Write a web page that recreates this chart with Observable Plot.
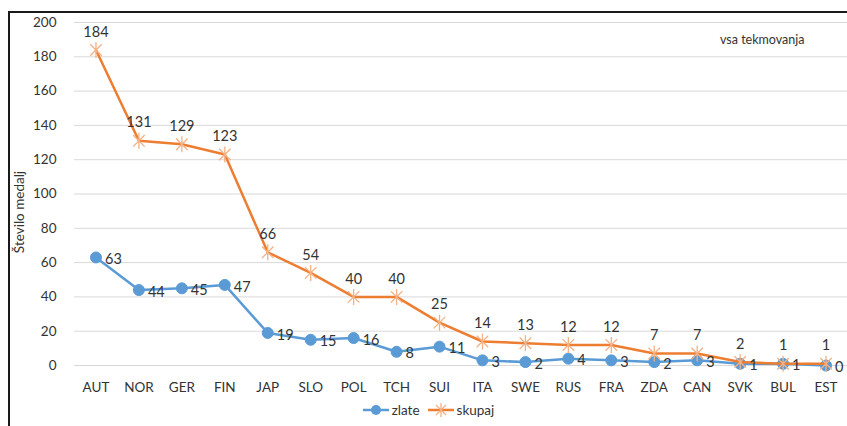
<!DOCTYPE html>
<html>
<head>
<meta charset="utf-8">
<script src="https://cdn.jsdelivr.net/npm/d3@7"></script>
<script src="https://cdn.jsdelivr.net/npm/@observablehq/plot@0.6"></script>
<style>
  body { margin: 0; background: #fff; font-family: Lato, "Open Sans", sans-serif; }
  #wrap { position: relative; width: 847px; height: 426px; overflow: hidden; }
  #frame { position: absolute; left: 8px; top: 11px; width: 900px; height: 500px;
           border-left: 2px solid #1a1a1a; border-top: 2px solid #1a1a1a; box-sizing: border-box; }
  #chart { position: absolute; left: 0; top: 0; }
  .ylab { position: absolute; left: 19px; top: 212px; transform: translate(-50%,-50%) rotate(-90deg);
          transform-origin: center; font-size: 13.5px; color: #333; white-space: nowrap; }
  .note { position: absolute; left: 720px; top: 32px; font-size: 12.5px; color: #333; }
  #legend { position: absolute; left: 0; top: 402px; width: 847px; display: flex; justify-content: center;
            align-items: center; gap: 8px; font-size: 13.5px; color: #333; padding-left: 10px; box-sizing: border-box; }
  #legend span.item { display: inline-flex; align-items: center; gap: 3px; }
</style>
</head>
<body>
<div id="wrap">
  <div id="frame"></div>
  <div id="chart"></div>
  <div class="note">vsa tekmovanja</div>
  <div id="legend"></div>
</div>
<script>
const countries = ["AUT","NOR","GER","FIN","JAP","SLO","POL","TCH","SUI","ITA","SWE","RUS","FRA","ZDA","CAN","SVK","BUL","EST"];
const zlate  = [63,44,45,47,19,15,16,8,11,3,2,4,3,2,3,1,1,0];
const skupaj = [184,131,129,123,66,54,40,40,25,14,13,12,12,7,7,2,1,1];
const yTicks = [0,20,40,60,80,100,120,140,160,180,200];
const seriesNames = ["zlate","skupaj"];
const yLabel = "Število medalj";

const blue = "#5b9bd5", orange = "#ed7d31", starColor = "#f4b183";
const dataZ = countries.map((c,i) => ({country: c, value: zlate[i]}));
const dataS = countries.map((c,i) => ({country: c, value: skupaj[i]}));

const star = {
  draw(ctx, size) {
    const r = Math.sqrt(size / Math.PI);
    const d = r * 0.72;
    ctx.moveTo(-d,-d); ctx.lineTo(d,d);
    ctx.moveTo(d,-d); ctx.lineTo(-d,d);
    ctx.moveTo(0,-r); ctx.lineTo(0,r);
  }
};

const textColor = "#333";
const plot = Plot.plot({
  width: 847,
  height: 400,
  marginLeft: 74,
  marginRight: 0,
  marginTop: 22,
  marginBottom: 35,
  style: { fontFamily: "Lato, 'Open Sans', sans-serif", fontSize: "13px", color: textColor, background: "transparent" },
  x: { type: "point", domain: countries, padding: 0.5, round: false, label: null },
  y: { domain: [0, 200], ticks: yTicks, label: null },
  marks: [
    Plot.gridY(yTicks, { stroke: "#d9d9d9", strokeOpacity: 1, strokeWidth: 1 }),
    Plot.axisY({ ticks: yTicks, tickSize: 0, tickPadding: 18, fontSize: 13.5, fill: textColor, label: null }),
    Plot.axisX({ tickSize: 0, tickPadding: 17, fontSize: 13.5, fill: textColor, label: null }),
    Plot.line(dataZ, { x: "country", y: "value", stroke: blue, strokeWidth: 2.5 }),
    Plot.dot(dataZ, { x: "country", y: "value", r: 5.5, fill: blue, stroke: blue, strokeWidth: 1 }),
    Plot.line(dataS, { x: "country", y: "value", stroke: orange, strokeWidth: 2.5 }),
    Plot.dot(dataS, { x: "country", y: "value", symbol: star, r: 8, stroke: starColor, strokeWidth: 1.3, fill: "none" }),
    Plot.text(dataS, { x: "country", y: "value", text: d => String(d.value), dy: -18, fill: textColor, fontSize: 14.5 }),
    Plot.text(dataZ, { x: "country", y: "value", text: d => String(d.value), dx: 9, dy: 2, textAnchor: "start", fill: textColor, fontSize: 14.5 })
  ]
});
document.getElementById("chart").appendChild(plot);

const yl = document.createElement("div");
yl.className = "ylab";
yl.textContent = yLabel;
document.getElementById("wrap").appendChild(yl);

// legend
const leg = document.getElementById("legend");
const mk = (name, i) => {
  const s = document.createElement("span");
  s.className = "item";
  const svg = d3.create("svg").attr("width", 26).attr("height", 16);
  if (i === 0) {
    svg.append("line").attr("x1",0).attr("x2",26).attr("y1",8).attr("y2",8).attr("stroke",blue).attr("stroke-width",2.5);
    svg.append("circle").attr("cx",13).attr("cy",8).attr("r",5).attr("fill",blue);
  } else {
    svg.append("line").attr("x1",0).attr("x2",26).attr("y1",8).attr("y2",8).attr("stroke",orange).attr("stroke-width",2.5);
    const p = d3.path(); star.draw(p, Math.PI*49);
    svg.append("path").attr("d", p.toString()).attr("transform","translate(13,8)").attr("stroke",starColor).attr("stroke-width",1.3).attr("fill","none");
  }
  s.appendChild(svg.node());
  const t = document.createElement("span"); t.textContent = name; s.appendChild(t);
  return s;
};
seriesNames.forEach((n,i) => leg.appendChild(mk(n,i)));
</script>
</body>
</html>
